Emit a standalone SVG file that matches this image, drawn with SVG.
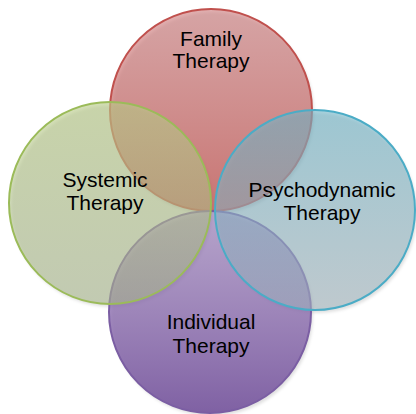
<svg xmlns="http://www.w3.org/2000/svg" width="416" height="414" viewBox="0 0 416 414">
  <defs>
    <linearGradient id="gRed" x1="0" y1="0" x2="0" y2="1">
      <stop offset="0" stop-color="#cf7f80" stop-opacity="0.62"/>
      <stop offset="1" stop-color="#c0504d" stop-opacity="0.75"/>
    </linearGradient>
    <linearGradient id="gGreen" x1="0" y1="0" x2="0" y2="1">
      <stop offset="0" stop-color="#b9cc88" stop-opacity="0.62"/>
      <stop offset="1" stop-color="#a9b88c" stop-opacity="0.55"/>
    </linearGradient>
    <linearGradient id="gBlue" x1="0" y1="0" x2="0" y2="1">
      <stop offset="0" stop-color="#6fb5c8" stop-opacity="0.6"/>
      <stop offset="1" stop-color="#a3b6bf" stop-opacity="0.55"/>
    </linearGradient>
    <linearGradient id="gPurple" x1="0" y1="0" x2="0" y2="1">
      <stop offset="0" stop-color="#9a7cbc" stop-opacity="0.6"/>
      <stop offset="1" stop-color="#7a5aa0" stop-opacity="0.95"/>
    </linearGradient>
    <filter id="soft" x="-10%" y="-10%" width="120%" height="120%">
      <feGaussianBlur stdDeviation="1.5"/>
    </filter>
  </defs>
  <style>
    .ring { stroke-width: 2; }
    .lbl { font-family: "Liberation Sans", Arial, sans-serif; font-size: 21px; fill: #000; text-anchor: middle; }
    .shadow { fill: #000; opacity: 0.12; }
  </style>

  <!-- soft drop shadows under the circles -->
  <g id="shadows" filter="url(#soft)">
    <circle class="shadow" cx="213" cy="113" r="101"/>
    <circle class="shadow" cx="112" cy="206" r="101"/>
    <circle class="shadow" cx="317" cy="213" r="100"/>
    <circle class="shadow" cx="212" cy="315" r="101"/>
  </g>

  <!-- connectors: none in this diagram -->
  <g id="connectors"/>

  <g id="family">
    <circle class="ring" cx="211" cy="110" r="101" fill="url(#gRed)" stroke="#c0504d"/>
  </g>
  <g id="individual">
    <circle class="ring" cx="210" cy="312" r="101" fill="url(#gPurple)" stroke="#7b5ea3"/>
  </g>
  <g id="psychodynamic">
    <circle class="ring" cx="315" cy="210" r="100" fill="url(#gBlue)" stroke="#4bacc6"/>
  </g>
  <g id="systemic">
    <circle class="ring" cx="110" cy="203" r="101" fill="url(#gGreen)" stroke="#9bbb59"/>
  </g>

  <g id="labels">
    <text class="lbl" x="211" y="46">Family</text>
    <text class="lbl" x="211" y="68">Therapy</text>
    <text class="lbl" x="105" y="187">Systemic</text>
    <text class="lbl" x="105" y="210">Therapy</text>
    <text class="lbl" x="322" y="197">Psychodynamic</text>
    <text class="lbl" x="322" y="220">Therapy</text>
    <text class="lbl" x="211" y="329">Individual</text>
    <text class="lbl" x="211" y="353">Therapy</text>
  </g>
</svg>
